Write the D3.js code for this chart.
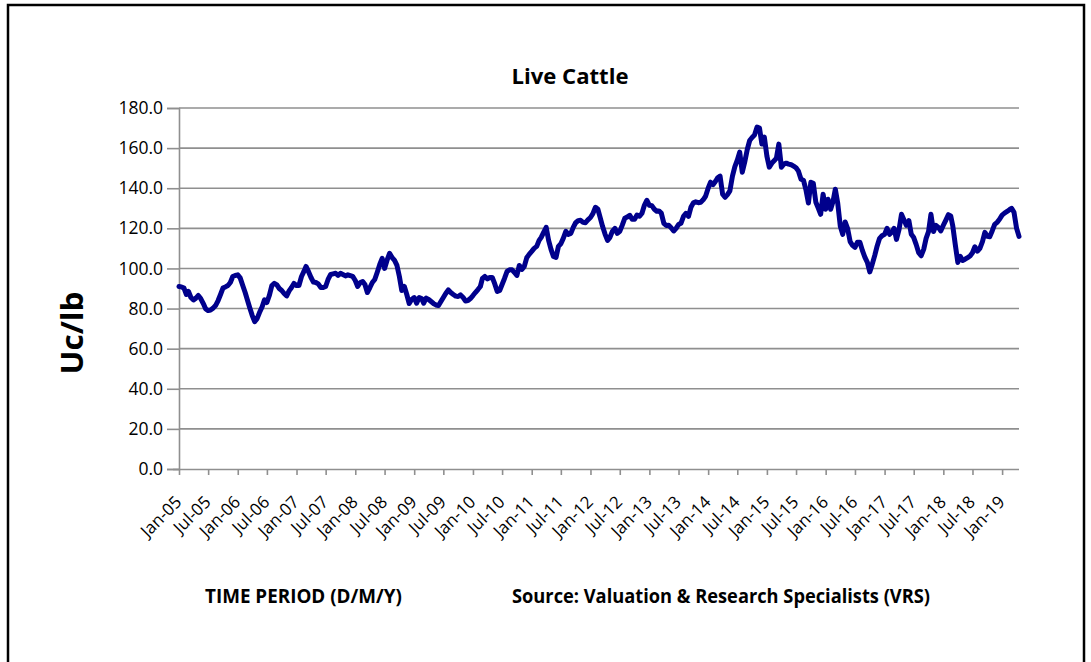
<!DOCTYPE html>
<html>
<head>
<meta charset="utf-8">
<script src="https://cdn.jsdelivr.net/npm/d3@7"></script>
<style>
body { margin: 0; background: #fff; }
svg text { font-family: "Open Sans", "Noto Sans", sans-serif; fill: #000; }
</style>
</head>
<body>
<div id="chart"></div>
<script>
// Live cattle price, Uc/lb, read twice a month (1st and 16th)
const startYear = 2005;
const prices2005 = [91.0, 90.8, 90.2, 87.0, 88.5, 85.5, 84.3, 85.2, 86.5, 85.0, 82.5, 79.8,
                    79.0, 79.3, 80.2, 81.5, 84.0, 87.0, 90.2, 90.8, 91.5, 93.0, 96.0, 96.5];
const prices2006 = [96.8, 95.3, 91.5, 88.0, 84.5, 80.5, 76.5, 73.5, 75.0, 78.0, 80.8, 84.3,
                    83.0, 86.5, 91.5, 92.6, 91.8, 90.0, 89.0, 87.5, 86.3, 88.8, 90.5, 92.5];
const prices2007 = [91.5, 91.5, 96.0, 98.5, 101.0, 98.5, 95.5, 93.2, 93.0, 92.3, 90.5, 90.5,
                    91.0, 94.5, 97.0, 97.3, 97.6, 96.5, 97.6, 97.0, 96.3, 96.8, 96.4, 96.0];
const prices2008 = [94.0, 91.0, 93.0, 93.5, 92.0, 88.0, 90.5, 93.0, 94.5, 98.0, 102.0, 105.0,
                    100.0, 104.0, 107.5, 105.5, 104.0, 101.5, 96.0, 89.0, 91.0, 87.0, 82.5, 84.5];
const prices2009 = [85.5, 82.7, 85.5, 85.0, 82.7, 85.2, 84.5, 83.5, 82.5, 81.8, 81.5, 83.5,
                    85.5, 87.5, 89.3, 88.0, 87.0, 86.2, 86.0, 86.8, 85.5, 83.8, 84.0, 85.0];
const prices2010 = [86.5, 88.0, 89.5, 91.0, 95.0, 96.0, 94.8, 95.5, 95.5, 92.4, 88.5, 89.0,
                    92.0, 95.0, 98.5, 99.3, 99.3, 98.0, 96.5, 101.5, 99.5, 101.0, 105.3, 107.0];
const prices2011 = [108.5, 110.0, 111.0, 114.0, 115.5, 118.0, 120.5, 114.0, 109.5, 106.0, 105.5, 111.0,
                    112.3, 115.0, 118.5, 117.0, 117.5, 120.5, 122.8, 123.8, 124.0, 123.0, 122.8, 124.2];
const prices2012 = [125.4, 127.3, 130.5, 129.5, 125.5, 121.0, 117.0, 114.0, 115.5, 118.5, 120.0, 117.5,
                    118.5, 121.5, 125.0, 125.6, 126.5, 124.5, 124.5, 126.6, 126.0, 127.5, 131.5, 134.0];
const prices2013 = [131.5, 131.3, 129.5, 128.5, 128.7, 127.6, 122.5, 121.4, 121.5, 120.3, 118.7, 120.0,
                    121.9, 122.5, 126.0, 127.5, 126.0, 130.5, 132.7, 133.2, 132.8, 133.0, 134.2, 136.0];
const prices2014 = [140.0, 143.0, 141.8, 143.5, 145.2, 146.0, 137.0, 135.5, 136.8, 138.7, 146.0, 150.8,
                    154.0, 158.0, 148.0, 153.0, 159.3, 163.8, 165.3, 166.5, 170.5, 170.0, 162.0, 165.5];
const prices2015 = [156.0, 150.5, 152.5, 153.8, 155.0, 162.0, 150.5, 152.0, 152.5, 152.0, 151.7, 151.0,
                    150.2, 148.5, 144.5, 144.0, 139.0, 132.6, 143.0, 142.5, 133.0, 130.1, 127.0, 137.0];
const prices2016 = [129.5, 134.5, 129.5, 133.5, 139.5, 132.5, 121.0, 117.0, 123.2, 120.0, 113.4, 111.5,
                    110.5, 113.0, 113.0, 109.0, 105.5, 103.0, 98.3, 102.0, 106.5, 111.2, 115.0, 116.3];
const prices2017 = [117.0, 120.0, 117.0, 118.3, 120.0, 114.5, 119.5, 127.0, 124.3, 121.5, 123.8, 117.0,
                    115.4, 112.0, 107.8, 106.3, 109.5, 115.0, 118.4, 127.0, 118.4, 121.5, 120.5, 118.7];
const prices2018 = [121.5, 124.0, 126.8, 126.2, 121.0, 112.0, 103.0, 106.0, 104.0, 104.6, 105.4, 106.2,
                    107.8, 110.8, 108.6, 110.0, 113.4, 118.0, 116.0, 115.8, 118.8, 122.0, 123.0, 124.5];
const prices2019 = [126.6, 127.6, 128.4, 129.3, 130.0, 128.0, 120.0, 116.0];

const pricesByYear = [prices2005, prices2006, prices2007, prices2008, prices2009, prices2010,
  prices2011, prices2012, prices2013, prices2014, prices2015, prices2016, prices2017,
  prices2018, prices2019];

const yTicks = [0, 20, 40, 60, 80, 100, 120, 140, 160, 180];
const xStart = new Date(2005, 0, 1);
const xEnd = new Date(2019, 3, 16);
const xTickLast = new Date(2019, 0, 1);

const titleText = "Live Cattle";
const yTitleText = "Uc/lb";
const footLeftText = "TIME PERIOD (D/M/Y)";
const footRightText = "Source: Valuation & Research Specialists (VRS)";

// flatten to dated points
let series = [];
pricesByYear.forEach(function (arr, yi) {
  arr.forEach(function (v, i) {
    series.push({ date: new Date(startYear + yi, Math.floor(i / 2), i % 2 ? 16 : 1), value: v });
  });
});

const width = 1091, height = 662;
const plot = { left: 179, right: 1019, top: 108, bottom: 469 };

let svg = d3.select('#chart').append('svg')
  .attr('width', width)
  .attr('height', height);

// outer frame (bottom edge runs off the picture)
svg.append('rect')
  .attr('x', 8).attr('y', 5)
  .attr('width', 1076).attr('height', 700)
  .attr('fill', 'none')
  .attr('stroke', '#000')
  .attr('stroke-width', 2.5);

let x = d3.scaleTime().domain([xStart, xEnd]).range([plot.left, plot.right]);
let y = d3.scaleLinear().domain([0, 180]).range([plot.bottom, plot.top]);

// gridlines
svg.append('g').attr('class', 'grid')
  .selectAll('line')
  .data(yTicks.filter(d => d > 0))
  .enter().append('line')
  .attr('x1', plot.left).attr('x2', plot.right)
  .attr('y1', d => y(d)).attr('y2', d => y(d))
  .attr('stroke', '#8f8f8f')
  .attr('stroke-width', 1.6);

// y axis
let yAxis = svg.append('g')
  .attr('transform', `translate(${plot.left},0)`)
  .call(d3.axisLeft(y).tickValues(yTicks).tickFormat(d3.format('.1f')).tickSize(12).tickPadding(4));
yAxis.selectAll('path, line').attr('stroke', '#8f8f8f').attr('stroke-width', 1.6);
yAxis.selectAll('text').style('font-size', '17.5px');

// x axis
let xTicks = d3.timeMonth.every(6).range(xStart, d3.timeDay.offset(xTickLast, 1));
let xAxis = svg.append('g')
  .attr('transform', `translate(0,${plot.bottom})`)
  .call(d3.axisBottom(x).tickValues(xTicks).tickFormat(d3.timeFormat('%b-%y')).tickSizeInner(6).tickSizeOuter(0));
xAxis.select('path').attr('stroke', '#8f8f8f').attr('stroke-width', 1.6)
  .attr('d', `M${plot.left - 6},0.5H${plot.right}`);
xAxis.selectAll('line').attr('stroke', '#8f8f8f').attr('stroke-width', 1.6);
xAxis.selectAll('text')
  .style('font-size', '17px')
  .attr('text-anchor', 'end')
  .attr('dy', '0.35em')
  .attr('y', 0)
  .attr('transform', 'translate(-1,30) rotate(-45)');

// price line
let line = d3.line()
  .x(d => x(d.date))
  .y(d => y(d.value));
svg.append('path')
  .datum(series)
  .attr('d', line)
  .attr('fill', 'none')
  .attr('stroke', '#00008c')
  .attr('stroke-width', 5)
  .attr('stroke-linejoin', 'round')
  .attr('stroke-linecap', 'round');

// titles
svg.append('text')
  .attr('x', 570).attr('y', 84)
  .attr('text-anchor', 'middle')
  .style('font-size', '22px').style('font-weight', 'bold')
  .attr('textLength', 117).attr('lengthAdjust', 'spacingAndGlyphs')
  .text(titleText);

svg.append('text')
  .attr('transform', 'translate(83,333) rotate(-90)')
  .attr('text-anchor', 'middle')
  .style('font-size', '30px').style('font-weight', 'bold')
  .attr('textLength', 83).attr('lengthAdjust', 'spacingAndGlyphs')
  .text(yTitleText);

svg.append('text')
  .attr('x', 205).attr('y', 603)
  .style('font-size', '19px').style('font-weight', 'bold')
  .attr('textLength', 197).attr('lengthAdjust', 'spacingAndGlyphs')
  .text(footLeftText);

svg.append('text')
  .attr('x', 512).attr('y', 603)
  .style('font-size', '19px').style('font-weight', 'bold')
  .attr('textLength', 418).attr('lengthAdjust', 'spacingAndGlyphs')
  .text(footRightText);
</script>
</body>
</html>
